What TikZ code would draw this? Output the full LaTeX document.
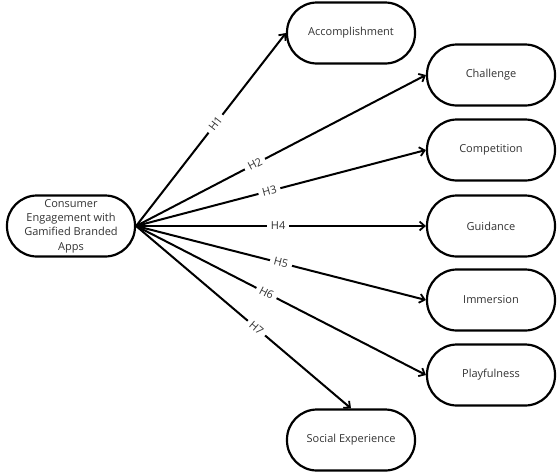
\documentclass[tikz,border=0pt]{standalone}
\usepackage{fontspec}
\setmainfont{Open Sans}
\usetikzlibrary{arrows.meta}

\tikzset{
    factor/.style={draw, line width=2.2pt, rounded corners=30pt, fill=white,
        minimum width=128pt, minimum height=61pt, align=center, inner sep=2pt,
        font=\fontsize{11}{14.3}\selectfont, text=black!80},
    hyp/.style={line width=2pt, -{Straight Barb[length=5pt,width=9pt,line width=1.8pt]}},
    hlabel/.style={fill=white, sloped, inner xsep=4pt, inner ysep=1pt, font=\fontsize{11}{12}\selectfont, text=black!80}
}

\begin{document}
\begin{tikzpicture}[x=1pt, y=-1pt] % one unit is one pixel, y runs down

    % page
    \useasboundingbox (0,0) rectangle (559,475);

    % Define parameters
    \def\xr{491}  % column of the right-hand factors

    % main construct
    \node[factor] (ceg) at (71,226) {Consumer\\Engagement with\\Gamified Branded\\Apps};

    % factors
    \node[factor] (acc) at (351,33) {Accomplishment};
    \node[factor] (cha) at (\xr,75) {Challenge};
    \node[factor] (com) at (\xr,150) {Competition};
    \node[factor] (gui) at (\xr,226) {Guidance};
    \node[factor] (imm) at (\xr,300) {Immersion};
    \node[factor] (pla) at (\xr,375) {Playfulness};
    \node[factor] (soc) at (351,440) {Social Experience};

    % hypotheses
    \draw[hyp] (ceg.east) -- node[hlabel, pos=0.53] {H1} (acc.west);
    \draw[hyp] (ceg.east) -- node[hlabel, pos=0.41] {H2} (cha.west);
    \draw[hyp] (ceg.east) -- node[hlabel, pos=0.46] {H3} (com.west);
    \draw[hyp] (ceg.east) -- node[hlabel, pos=0.49] {H4} (gui.west);
    \draw[hyp] (ceg.east) -- node[hlabel, pos=0.50] {H5} (imm.west);
    \draw[hyp] (ceg.east) -- node[hlabel, pos=0.45] {H6} (pla.west);
    \draw[hyp] (ceg.east) -- node[hlabel, pos=0.56] {H7} (soc.north);

\end{tikzpicture}
\end{document}
